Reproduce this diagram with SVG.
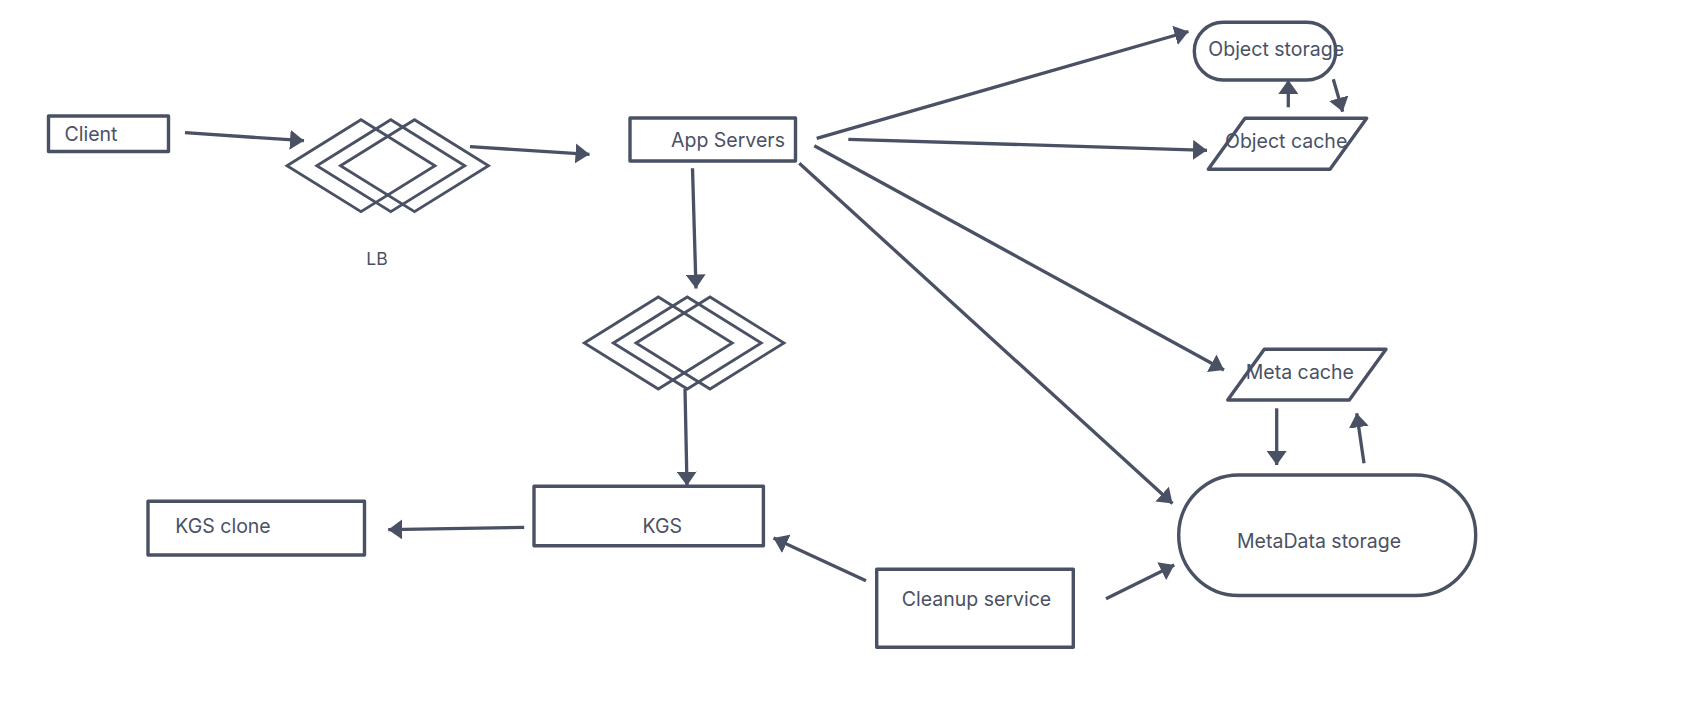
<svg xmlns="http://www.w3.org/2000/svg" width="1686" height="706" viewBox="0 0 1686 706">
<style>
.shape{fill:none;stroke:#4a5164;stroke-width:3.4;stroke-linejoin:round}
.dia{fill:none;stroke:#4a5164;stroke-width:2.8;stroke-linejoin:miter}
.lbl{font-family:Inter,"Liberation Sans",sans-serif;font-size:19.5px;fill:#4a5164}
.small{font-size:17.5px}
.conn{fill:none;stroke:#4a5164;stroke-width:3.3;stroke-linecap:butt}
</style>
<defs>
<marker id="ah" markerUnits="userSpaceOnUse" markerWidth="16" markerHeight="20" refX="14" refY="10" orient="auto" viewBox="0 0 16 20">
<path d="M0,0 L14,10 L0,20 Z" fill="#4a5164"/>
</marker>
<polygon id="diamond" points="-74,0 0,-46 74,0 0,46"/>
</defs>
<rect width="1686" height="706" fill="#ffffff"/>

<g id="connectors">
<path class="conn" marker-end="url(#ah)" d="M185,132.7 L304,140.7"/>
<path class="conn" marker-end="url(#ah)" d="M470,146.7 L589.5,154.3"/>
<path class="conn" marker-end="url(#ah)" d="M692.5,168.3 L696,288.5"/>
<path class="conn" marker-end="url(#ah)" d="M685,389 L687,485.7"/>
<path class="conn" marker-end="url(#ah)" d="M524.2,527.3 L388.2,529.7"/>
<path class="conn" marker-end="url(#ah)" d="M866,580.7 L773.5,538"/>
<path class="conn" marker-end="url(#ah)" d="M1106,598.7 L1174.3,565"/>
<path class="conn" marker-end="url(#ah)" d="M799.3,163.3 L1172.5,503.5"/>
<path class="conn" marker-end="url(#ah)" d="M814.3,145.7 L1224,370"/>
<path class="conn" marker-end="url(#ah)" d="M816.7,138.3 L1188.5,31.5"/>
<path class="conn" marker-end="url(#ah)" d="M848.3,139.3 L1207,150.3"/>
<path class="conn" marker-end="url(#ah)" d="M1288.3,107.3 L1288.3,80"/>
<path class="conn" marker-end="url(#ah)" d="M1333.3,79.3 L1342.7,111.7"/>
<path class="conn" marker-end="url(#ah)" d="M1276.7,408.3 L1276.7,465"/>
<path class="conn" marker-end="url(#ah)" d="M1364,463.3 L1356.7,413.3"/>
</g>

<g id="client">
<rect class="shape" x="48.5" y="116" width="120" height="35.5"/>
<text class="lbl" x="64.5" y="141">Client</text>
</g>

<g id="lb">
<use href="#diamond" class="dia" x="361" y="165.7"/>
<use href="#diamond" class="dia" x="390.8" y="165.7"/>
<use href="#diamond" class="dia" x="414.5" y="165.7"/>
<text class="lbl small" x="377" y="265" text-anchor="middle">LB</text>
</g>

<g id="app-servers">
<rect class="shape" x="630" y="118" width="165.5" height="43"/>
<text class="lbl" x="671" y="146.7">App Servers</text>
</g>

<g id="kgs-lb">
<use href="#diamond" class="dia" x="658.3" y="343"/>
<use href="#diamond" class="dia" x="687.3" y="343"/>
<use href="#diamond" class="dia" x="710" y="343"/>
</g>

<g id="kgs">
<rect class="shape" x="534" y="486.3" width="229.4" height="59.4"/>
<text class="lbl" x="642.5" y="533">KGS</text>
</g>

<g id="kgs-clone">
<rect class="shape" x="148" y="501.3" width="216.5" height="53.7"/>
<text class="lbl" x="175.3" y="533">KGS clone</text>
</g>

<g id="cleanup-service">
<rect class="shape" x="876.7" y="569.3" width="196.6" height="78"/>
<text class="lbl" x="901.7" y="606">Cleanup service</text>
</g>

<g id="metadata-storage">
<rect class="shape" x="1178.7" y="475" width="297" height="120.5" rx="60" ry="60"/>
<text class="lbl" x="1237" y="548">MetaData storage</text>
</g>

<g id="meta-cache">
<polygon class="shape" points="1264.3,349.3 1386,349.3 1349.3,400 1227.7,400"/>
<text class="lbl" x="1245.7" y="379.3">Meta cache</text>
</g>

<g id="object-storage">
<rect class="shape" x="1194.3" y="22.3" width="141.4" height="57.7" rx="28.8" ry="28.8"/>
<text class="lbl" x="1208.3" y="55.7">Object storage</text>
</g>

<g id="object-cache">
<polygon class="shape" points="1245,118.3 1366.7,118.3 1330,169.3 1208.3,169.3"/>
<text class="lbl" x="1225" y="148.3">Object cache</text>
</g>
</svg>
